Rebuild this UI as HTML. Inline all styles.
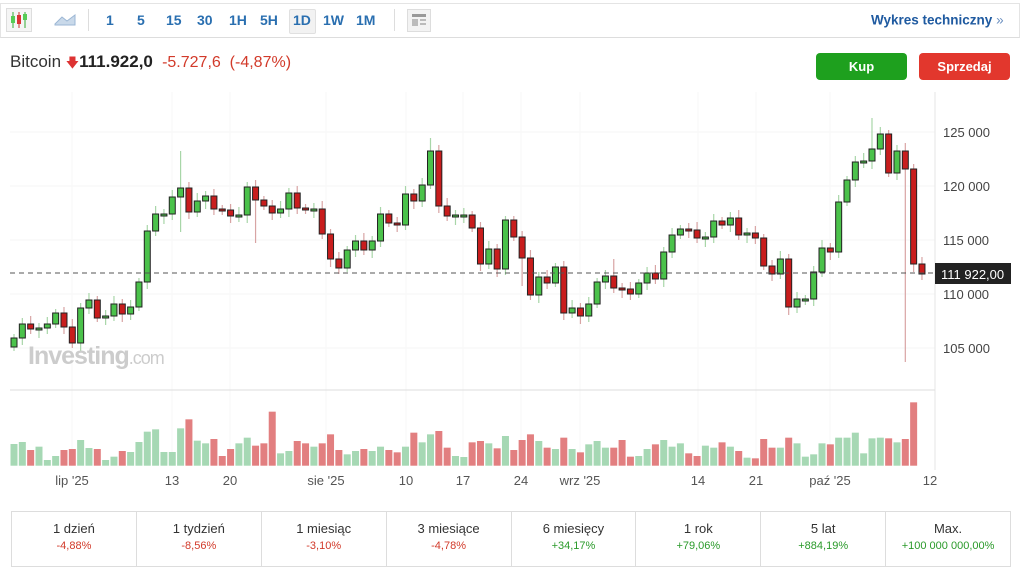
<!DOCTYPE html>
<html><head><meta charset="utf-8"><style>
body{margin:0;background:#fff;width:1024px;height:574px;overflow:hidden;font-family:"Liberation Sans",sans-serif;position:relative}
.a{position:absolute}
.tb{left:0;top:3px;width:1020px;height:35px;border:1px solid #e4e4e4;border-bottom:1px solid #ddd;box-sizing:border-box}
.tf{top:20px;font-size:14px;font-weight:bold;color:#2a6fb0;transform:translateY(-50%)}
.btn{top:53px;height:27px;border-radius:4px;color:#fff;font-weight:bold;font-size:13px;text-align:center;line-height:27px}
.tbl{left:11px;top:511px;width:1000px;height:56px;border:1px solid #ddd;box-sizing:border-box;display:flex}
.tbl div{flex:1;border-right:1px solid #ddd;text-align:center;font-size:13px;color:#333;padding-top:9px}
.tbl div:last-child{border-right:none}
.tbl span{display:block;font-size:11px;margin-top:4px}
.r{color:#d23a2a}.g{color:#2a9a2a}
</style></head><body>
<div class="a tb"></div>
<svg class="a" style="left:6px;top:8px" width="26" height="24"><rect x="0.5" y="0.5" width="25" height="23" fill="#f5f5f5" stroke="#ddd"/><line x1="7" y1="4" x2="7" y2="20" stroke="#3a3"/><rect x="5" y="8" width="4" height="7" fill="#5c5"/><line x1="13" y1="4" x2="13" y2="20" stroke="#c33"/><rect x="11" y="7" width="4" height="9" fill="#d33"/><line x1="19" y1="4" x2="19" y2="20" stroke="#3a3"/><rect x="17" y="6" width="4" height="6" fill="#5c5"/></svg>
<svg class="a" style="left:54px;top:12px" width="22" height="14"><path d="M1 12 L8 5 L13 9 L21 3 L21 13 L1 13Z" fill="#c9d9ea" stroke="#9bb6d4"/></svg>
<div class="a" style="left:88px;top:9px;width:1px;height:22px;background:#ddd"></div>
<div class="a tf" style="left:106px">1</div>
<div class="a tf" style="left:137px">5</div>
<div class="a tf" style="left:166px">15</div>
<div class="a tf" style="left:197px">30</div>
<div class="a tf" style="left:229px">1H</div>
<div class="a tf" style="left:260px">5H</div>
<div class="a" style="left:289px;top:9px;width:25px;height:23px;background:#f2f2f2;border:1px solid #e0e0e0;border-radius:2px"></div>
<div class="a tf" style="left:293px">1D</div>
<div class="a tf" style="left:323px">1W</div>
<div class="a tf" style="left:356px">1M</div>
<div class="a" style="left:394px;top:9px;width:1px;height:22px;background:#ddd"></div>
<svg class="a" style="left:407px;top:9px" width="24" height="23"><rect x="0.5" y="0.5" width="23" height="22" fill="#f3f3f3" stroke="#ddd"/><rect x="5" y="5" width="14" height="3" fill="#999"/><rect x="5" y="10" width="6" height="7" fill="#bbb"/><rect x="13" y="10" width="6" height="2" fill="#bbb"/><rect x="13" y="14" width="6" height="2" fill="#bbb"/></svg>
<div class="a tf" style="left:871px;font-size:13.5px;color:#1f5aa0">Wykres techniczny <span style="color:#6a8fc0;font-weight:normal">»</span></div>
<div class="a" style="left:10px;top:52px;font-size:17px;color:#333">Bitcoin <span style="color:#d33;font-size:13px">&#x1F847;</span><b style="color:#222">111.922,0</b> <span class="r" style="font-size:16px">&nbsp;-5.727,6 &nbsp;(-4,87%)</span></div>
<div class="a btn" style="left:816px;width:91px;background:#1ea01e">Kup</div>
<div class="a btn" style="left:919px;width:91px;background:#e2372d">Sprzedaj</div>
<svg class="a" style="left:0;top:0" width="1024" height="574" id="c"></svg>
<div class="a tbl">
<div>1 dzień<span class="r">-4,88%</span></div>
<div>1 tydzień<span class="r">-8,56%</span></div>
<div>1 miesiąc<span class="r">-3,10%</span></div>
<div>3 miesiące<span class="r">-4,78%</span></div>
<div>6 miesięcy<span class="g">+34,17%</span></div>
<div>1 rok<span class="g">+79,06%</span></div>
<div>5 lat<span class="g">+884,19%</span></div>
<div>Max.<span class="g">+100 000 000,00%</span></div>
</div>
<script>
var C=[338,324,329,328,324,313,327,343,308,300,318,316,304,314,307,282,231,214,214,197,188,212,201,196,209,210,216,215,187,200,206,213,209,193,208,209,209,234,259,268,250,241,250,241,214,223,225,194,201,185,151,206,216,215,215,228,264,249,269,220,237,258,295,277,283,267,313,308,316,304,282,276,288,289,294,283,273,279,252,235,229,230,238,237,221,225,218,235,233,238,266,274,259,307,299,299,272,248,252,202,180,162,161,149,134,173,151,169,264,274];
var V=[1032,1026,1050,1040,1080,1068,1050,1047,1020,1044,1047,1080,1070,1053,1056,1026,995,988,1056,1056,985,958,1022,1030,1017,1068,1047,1030,1013,1037,1030,935,1060,1053,1023,1030,1040,1030,1003,1050,1063,1053,1047,1053,1040,1050,1057,1040,998,1027,1003,993,1043,1068,1071,1027,1023,1030,1045,1008,1050,1020,1003,1023,1043,1047,1013,1047,1057,1033,1023,1043,1043,1020,1070,1068,1047,1033,1020,1040,1030,1060,1068,1037,1043,1027,1040,1053,1073,1075,1017,1043,1043,1013,1030,1070,1063,1030,1033,1013,1013,998,1060,1015,1013,1015,1027,1017,907];
var HI={20:151,50:138,72:259,103:118,16:225,59:216};var LO={107:362,20:232,61:286,29:243};
var s='';
[132,186,240,294,348].forEach(function(y){s+='<line x1="10" y1="'+y+'" x2="935" y2="'+y+'" stroke="#f6f6f6"/>'});
[72,172,230,326,406,463,521,580,698,756,830].forEach(function(x){s+='<line x1="'+x+'" y1="92" x2="'+x+'" y2="466" stroke="#f7f7f7"/>'});
s+='<line x1="935" y1="92" x2="935" y2="470" stroke="#e6e6e6"/><line x1="10" y1="390" x2="935" y2="390" stroke="#ddd"/>';
var lab=[[125000,132],[120000,186],[115000,240],[110000,294],[105000,348]];
lab.forEach(function(l){s+='<text x="943" y="'+(l[1]+5)+'" font-size="13" fill="#444" font-family="Liberation Sans">'+String(l[0]).replace(/(\d{3})$/,' $1')+'</text>'});
[["lip '25",72],["13",172],["20",230],["sie '25",326],["10",406],["17",463],["24",521],["wrz '25",580],["14",698],["21",756],["paź '25",830],["12",930]].forEach(function(l){s+='<text x="'+l[1]+'" y="485" font-size="13" fill="#555" text-anchor="middle" font-family="Liberation Sans">'+l[0]+'</text>'});
for(var i=0;i<C.length;i++){var x=14+i*8.33,c=C[i],o=i?C[i-1]:347,up=c<=o;
var t=Math.min(o,c),b=Math.max(o,c);if(b-t<2){b=t+2}
var h=HI[i]!=null?HI[i]:t-4-(i*7%5),l=LO[i]!=null?LO[i]:b+4+(i*3%5);
var col=up?'#4bc24b':'#c81d1d',wc=up?'#a8d6a8':'#d8a4a4';
s+='<line x1="'+x+'" y1="'+h+'" x2="'+x+'" y2="'+l+'" stroke="'+wc+'" stroke-width="1.2"/>';
s+='<rect x="'+(x-3)+'" y="'+t+'" width="6" height="'+(b-t)+'" fill="'+col+'" stroke="#222" stroke-width="1"/>';
if(i<V.length){var vt=100+V[i]/3,vh=465.7-vt;s+='<rect x="'+(x-3.5)+'" y="'+vt+'" width="7" height="'+vh+'" fill="'+(up?'#a6d8b4':'#e27f80')+'"/>'}}
s+='<line x1="10" y1="273" x2="935" y2="273" stroke="#555" stroke-dasharray="5,4"/>';
s+='<rect x="935" y="263" width="76" height="21" fill="#222"/><text x="941" y="279" font-size="13" fill="#fff" font-family="Liberation Sans">111 922,00</text>';
s+='<text x="28" y="364" font-size="25" font-weight="bold" fill="#ccc" font-family="Liberation Sans" letter-spacing="-1">Investing<tspan font-weight="normal" font-size="18">.com</tspan></text>';
document.getElementById('c').innerHTML=s;
</script>
</body></html>
